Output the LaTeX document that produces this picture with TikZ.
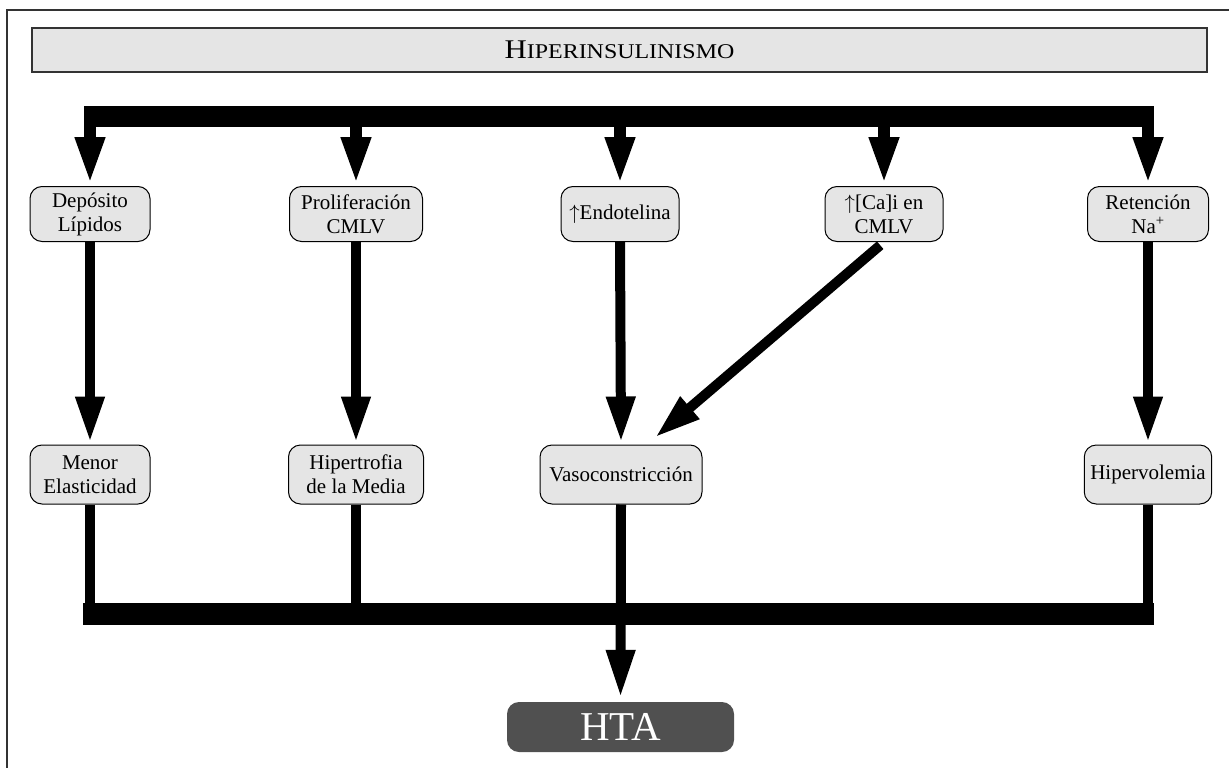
\documentclass[tikz,border=0pt]{standalone}
\usepackage{fontspec}
\usepackage{graphicx}
\setmainfont{Liberation Serif}
\usetikzlibrary{arrows.meta,calc}
\definecolor{boxfill}{gray}{0.9}
\definecolor{htafill}{HTML}{505050}
\definecolor{framegray}{HTML}{333333}
\begin{document}
\begin{tikzpicture}[x=1pt,y=-1pt,
  box/.style={draw=black, line width=1pt, fill=boxfill, rounded corners=12pt,
    align=center, font=\fontsize{21}{24}\selectfont, minimum height=55pt,
    inner xsep=6pt, inner ysep=3pt},
  lowbox/.style={box, minimum height=59pt},
  titlebox/.style={draw=framegray, line width=1.5pt, fill=boxfill,
    minimum width=1175pt, minimum height=44pt, inner sep=0pt},
  htabox/.style={fill=htafill, rounded corners=12pt, text=white,
    font=\fontsize{41}{41}\selectfont, minimum width=227pt, minimum height=50pt, inner sep=0pt},
  bus/.style={line width=21pt, line cap=butt},
  bigarrow/.style={line width=12pt, -{Triangle[length=48pt,width=27pt]}},
  midarrow/.style={line width=10pt, -{Triangle[length=46pt,width=27pt]}},
  feed/.style={line width=10pt},
]
\useasboundingbox (0,0) rectangle (1229,768);
% outer frame (only top and left edges visible)
\draw[line width=1.5pt, framegray] (7,768) -- (7,10) -- (1229,10);

% title
\node[titlebox] (title) at (619.5,50) {\scalebox{1.14}[1]{{\fontsize{27}{27}\selectfont H}{\fontsize{21}{21}\selectfont IPERINSULINISMO}}};

% top row
\node[box, minimum width=120pt] (dep) at (90,214) {Depósito\\Lípidos};
\node[box, minimum width=133pt] (pro) at (356,214) {Proliferación\\CMLV};
\node[box, minimum width=118pt] (endo) at (620,214) {$\uparrow$Endotelina};
\node[box, minimum width=118pt] (ca) at (884,214) {$\uparrow${}[Ca]i en\\CMLV};
\node[box, minimum width=121pt] (ret) at (1148,214) {Retención\\Na\textsuperscript{+}};

% bottom row
\node[lowbox, minimum width=120pt] (men) at (90,474.5) {Menor\\Elasticidad};
\node[lowbox, minimum width=135pt] (hip) at (356,474.5) {Hipertrofia\\de la Media};
\node[lowbox, minimum width=162pt] (vas) at (621,474.5) {Vasoconstricción};
\node[lowbox, minimum width=123pt] (hvol) at (1148,474.5) {Hipervolemia};

% HTA
\node[htabox] (hta) at (620.5,727) {HTA};

% top bus
\coordinate (t1) at (90,116);
\coordinate (t2) at (356,116);
\coordinate (t3) at (620,116);
\coordinate (t4) at (884,116);
\coordinate (t5) at (1148,116);
\draw[bus] ([xshift=-6pt]t1) -- ([xshift=6pt]t5);
\foreach \t/\n in {t1/dep,t2/pro,t3/endo,t4/ca,t5/ret}
  \draw[bigarrow, shorten >=1pt] ([yshift=10pt]\t) -- (\n.north);

% middle arrows
\draw[midarrow, shorten >=2pt] (dep.south) -- (men.north);
\draw[midarrow, shorten >=2pt] (pro.south) -- (hip.north);
\draw[midarrow, shorten >=2pt] (endo.south) -- (vas.north);
\draw[midarrow, shorten >=2pt] (ret.south) -- (hvol.north);
\draw[midarrow, shorten <=5pt] (ca.south) -- ([xshift=34pt,yshift=7pt]vas.north);

% bottom bus
\coordinate (d1) at (90,614);
\coordinate (d2) at (356,614);
\coordinate (d3) at (621,614);
\coordinate (d5) at (1148,614);
\draw[feed] (men.south) -- (d1);
\draw[feed] (hip.south) -- (d2);
\draw[feed] (hvol.south) -- (d5);
\draw[line width=22pt] ([xshift=-7pt]d1) -- ([xshift=6pt]d5);
\draw[midarrow, -{Triangle[length=48pt,width=27pt]}, shorten >=4pt] (vas.south) -- (hta.north);
\end{tikzpicture}
\end{document}
